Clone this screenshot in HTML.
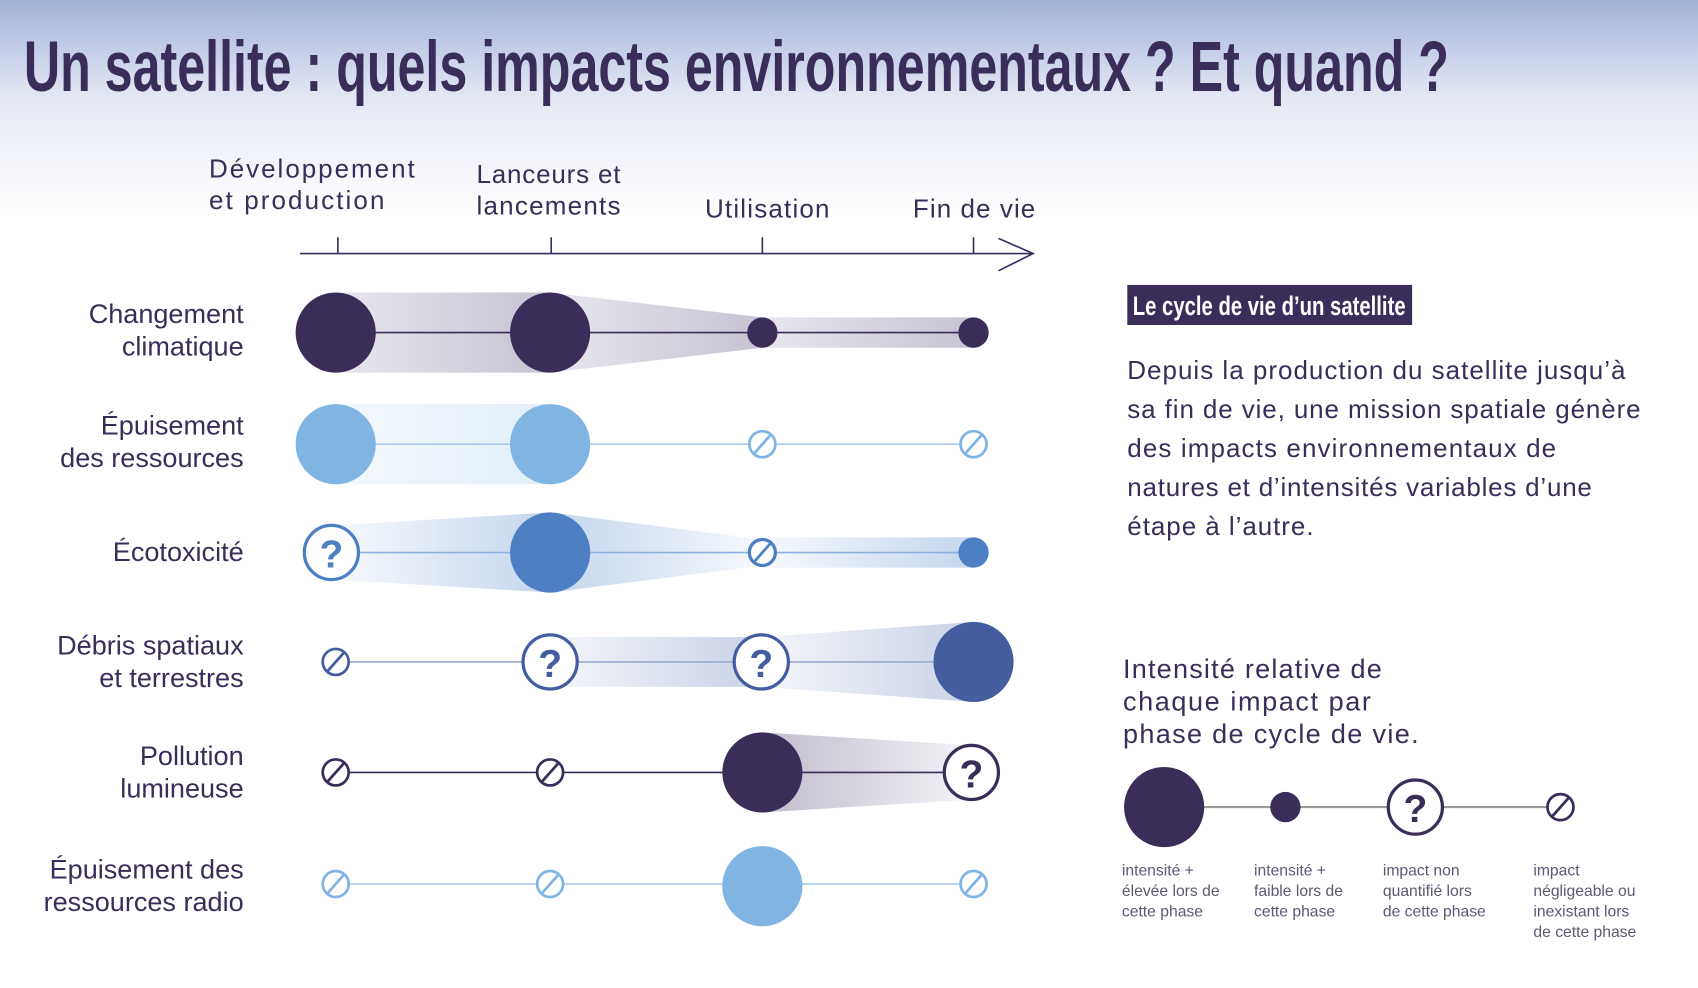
<!DOCTYPE html>
<html><head><meta charset="utf-8"><style>
html,body{margin:0;padding:0;background:#fff}
svg{display:block}
.t{font-family:"Liberation Sans",sans-serif;fill:#3a2d5a}
</style></head><body>
<svg width="1698" height="988" viewBox="0 0 1568 912" preserveAspectRatio="none" xmlns="http://www.w3.org/2000/svg">
<defs>
<linearGradient id="bg" x1="0" y1="0" x2="0" y2="1"><stop offset="0" stop-color="#a3b2d8"/><stop offset="0.45" stop-color="#e4e8f4"/><stop offset="1" stop-color="#ffffff"/></linearGradient>
<linearGradient id="gD" x1="0" x2="1"><stop offset="0" stop-color="#e8e7ee"/><stop offset="1" stop-color="#c6c2d2"/></linearGradient>
<linearGradient id="gDr" x1="1" x2="0"><stop offset="0" stop-color="#f4f3f7"/><stop offset="1" stop-color="#c0bbcc"/></linearGradient>
<linearGradient id="gL" x1="0" x2="1"><stop offset="0" stop-color="#f3f8fd"/><stop offset="1" stop-color="#e2eef9"/></linearGradient>
<linearGradient id="gM" x1="0" x2="1"><stop offset="0" stop-color="#f6f9fd"/><stop offset="1" stop-color="#c5d6ec"/></linearGradient>
<linearGradient id="gMr" x1="1" x2="0"><stop offset="0" stop-color="#f6f9fd"/><stop offset="1" stop-color="#c5d6ec"/></linearGradient>
<linearGradient id="gB" x1="0" x2="1"><stop offset="0" stop-color="#f4f6fa"/><stop offset="1" stop-color="#c9d2e6"/></linearGradient>
</defs>
<rect width="1568" height="200" fill="url(#bg)"/>
<text class="t" x="22" y="84" font-weight="bold" font-size="66" textLength="1316" lengthAdjust="spacingAndGlyphs" style="font-family:'Liberation Sans Narrow','Liberation Sans',sans-serif">Un satellite : quels impacts environnementaux ? Et quand ?</text>

<g class="t" font-size="24">
<text x="193" y="164" textLength="190">Développement</text><text x="193" y="193" textLength="162">et production</text>
<text x="440" y="169" textLength="133">Lanceurs et</text><text x="440" y="198" textLength="133">lancements</text>
<text x="651" y="201" textLength="115">Utilisation</text>
<text x="843" y="201" textLength="113">Fin de vie</text>
</g>
<g stroke="#3a2d5a" stroke-width="1.5" fill="none">
<line x1="277" y1="234" x2="954" y2="234"/>
<polyline points="922,220 954,234 922,250"/>
<line x1="312" y1="219" x2="312" y2="234"/><line x1="509" y1="219" x2="509" y2="234"/><line x1="704" y1="219" x2="704" y2="234"/><line x1="899" y1="219" x2="899" y2="234"/>
</g>

<g class="t" font-size="25" text-anchor="end">
<text x="225" y="298">Changement</text><text x="225" y="328">climatique</text>
<text x="225" y="401">Épuisement</text><text x="225" y="431">des ressources</text>
<text x="225" y="518">Écotoxicité</text>
<text x="225" y="604">Débris spatiaux</text><text x="225" y="634">et terrestres</text>
<text x="225" y="706">Pollution</text><text x="225" y="736">lumineuse</text>
<text x="225" y="811">Épuisement des</text><text x="225" y="841">ressources radio</text>
</g>

<!-- row1 -->
<rect x="310" y="270" width="198" height="74" fill="url(#gD)"/>
<polygon points="508,270 704,293 704,321 508,344" fill="url(#gD)"/>
<rect x="704" y="293" width="195" height="28" fill="url(#gD)"/>
<line x1="310" y1="307" x2="899" y2="307" stroke="#3a2d5a" stroke-width="1.5"/>
<g fill="#3a2d5a"><circle cx="310" cy="307" r="37"/><circle cx="508" cy="307" r="37"/><circle cx="704" cy="307" r="14"/><circle cx="899" cy="307" r="14"/></g>

<!-- row2 -->
<rect x="310" y="373" width="198" height="74" fill="url(#gL)"/>
<line x1="310" y1="410" x2="899" y2="410" stroke="#a9cbee" stroke-width="1.5"/>
<g fill="#7fb4e3"><circle cx="310" cy="410" r="37"/><circle cx="508" cy="410" r="37"/></g>
<g stroke="#7fb4e3" stroke-width="2.5" fill="#fff"><circle cx="704" cy="410" r="12"/><line x1="712" y1="401" x2="696" y2="419"/><circle cx="899" cy="410" r="12"/><line x1="907" y1="401" x2="891" y2="419"/></g>

<!-- row3 -->
<polygon points="310,485 508,473 508,547 310,535" fill="url(#gM)"/>
<polygon points="508,473 704,498 704,522 508,547" fill="url(#gMr)"/>
<rect x="704" y="496" width="195" height="28" fill="url(#gM)"/>
<line x1="310" y1="510" x2="899" y2="510" stroke="#8db0de" stroke-width="1.5"/>
<circle cx="508" cy="510" r="37" fill="#4d7fc3"/><circle cx="899" cy="510" r="14" fill="#4d7fc3"/>
<g stroke="#4d7fc3" stroke-width="3" fill="#fff"><circle cx="306" cy="510" r="25"/><circle cx="704" cy="510" r="12"/><line x1="712" y1="501" x2="696" y2="519" stroke-width="2.5"/></g>
<text x="306" y="524" text-anchor="middle" font-family="Liberation Sans Narrow,Liberation Sans,sans-serif" font-weight="bold" font-size="36" fill="#4d7fc3">?</text>

<!-- row4 -->
<rect x="508" y="588" width="196" height="46" fill="url(#gB)"/>
<polygon points="704,588 899,574 899,648 704,634" fill="url(#gB)"/>
<line x1="310" y1="611" x2="899" y2="611" stroke="#9aa9cf" stroke-width="1.5"/>
<circle cx="899" cy="611" r="37" fill="#435d9e"/>
<g stroke="#435d9e" stroke-width="3" fill="#fff"><circle cx="508" cy="611" r="25"/><circle cx="703" cy="611" r="25"/><circle cx="310" cy="611" r="12" stroke-width="2.5"/><line x1="318" y1="602" x2="302" y2="620" stroke-width="2.5"/></g>
<g font-family="Liberation Sans Narrow,Liberation Sans,sans-serif" font-weight="bold" font-size="36" fill="#435d9e" text-anchor="middle"><text x="508" y="625">?</text><text x="703" y="625">?</text></g>

<!-- row5 -->
<polygon points="704,676 897,688 897,738 704,750" fill="url(#gDr)"/>
<line x1="310" y1="713" x2="899" y2="713" stroke="#3a2d5a" stroke-width="1.5"/>
<circle cx="704" cy="713" r="37" fill="#3a2d5a"/>
<g stroke="#3a2d5a" stroke-width="2.5" fill="#fff"><circle cx="310" cy="713" r="12"/><line x1="318" y1="704" x2="302" y2="722"/><circle cx="508" cy="713" r="12"/><line x1="516" y1="704" x2="500" y2="722"/><circle cx="897" cy="713" r="25" stroke-width="3"/></g>
<text x="897" y="727" text-anchor="middle" font-family="Liberation Sans Narrow,Liberation Sans,sans-serif" font-weight="bold" font-size="36" fill="#3a2d5a">?</text>

<!-- row6 -->
<line x1="310" y1="816" x2="899" y2="816" stroke="#a9cbee" stroke-width="1.5"/>
<circle cx="704" cy="818" r="37" fill="#7fb4e3"/>
<g stroke="#7fb4e3" stroke-width="2.5" fill="#fff"><circle cx="310" cy="816" r="12"/><line x1="318" y1="807" x2="302" y2="825"/><circle cx="508" cy="816" r="12"/><line x1="516" y1="807" x2="500" y2="825"/><circle cx="899" cy="816" r="12"/><line x1="907" y1="807" x2="891" y2="825"/></g>

<!-- right -->
<rect x="1041" y="263" width="263" height="37" fill="#3a2d5a"/>
<text x="1046" y="291" fill="#fff" font-weight="bold" font-size="25" textLength="252" lengthAdjust="spacingAndGlyphs" style="font-family:'Liberation Sans Narrow','Liberation Sans',sans-serif">Le cycle de vie d’un satellite</text>
<g class="t" font-size="24">
<text x="1041" y="350" textLength="460">Depuis la production du satellite jusqu’à</text>
<text x="1041" y="386" textLength="474">sa fin de vie, une mission spatiale génère</text>
<text x="1041" y="422" textLength="396">des impacts environnementaux de</text>
<text x="1041" y="458" textLength="429">natures et d’intensités variables d’une</text>
<text x="1041" y="494" textLength="172">étape à l’autre.</text>
</g>
<g class="t" font-size="25">
<text x="1037" y="626" textLength="239">Intensité relative de</text>
<text x="1037" y="656" textLength="229">chaque impact par</text>
<text x="1037" y="686" textLength="273">phase de cycle de vie.</text>
</g>
<line x1="1075" y1="745" x2="1441" y2="745" stroke="#9a9a9a" stroke-width="2"/>
<circle cx="1075" cy="745" r="37" fill="#3a2d5a"/><circle cx="1187" cy="745" r="14" fill="#3a2d5a"/>
<g stroke="#3a2d5a" stroke-width="3" fill="#fff"><circle cx="1307" cy="745" r="25"/><circle cx="1441" cy="745" r="12" stroke-width="2.5"/><line x1="1449" y1="736" x2="1433" y2="754" stroke-width="2.5"/></g>
<text x="1307" y="759" text-anchor="middle" font-family="Liberation Sans Narrow,Liberation Sans,sans-serif" font-weight="bold" font-size="36" fill="#3a2d5a">?</text>
<g font-family="Liberation Sans,sans-serif" font-size="14.5" fill="#5e5775">
<text x="1036" y="808">intensité +</text><text x="1036" y="827">élevée lors de</text><text x="1036" y="846">cette phase</text>
<text x="1158" y="808">intensité +</text><text x="1158" y="827">faible lors de</text><text x="1158" y="846">cette phase</text>
<text x="1277" y="808">impact non</text><text x="1277" y="827">quantifié lors</text><text x="1277" y="846">de cette phase</text>
<text x="1416" y="808">impact</text><text x="1416" y="827">négligeable ou</text><text x="1416" y="846">inexistant lors</text><text x="1416" y="865">de cette phase</text>
</g>
</svg>
</body></html>
